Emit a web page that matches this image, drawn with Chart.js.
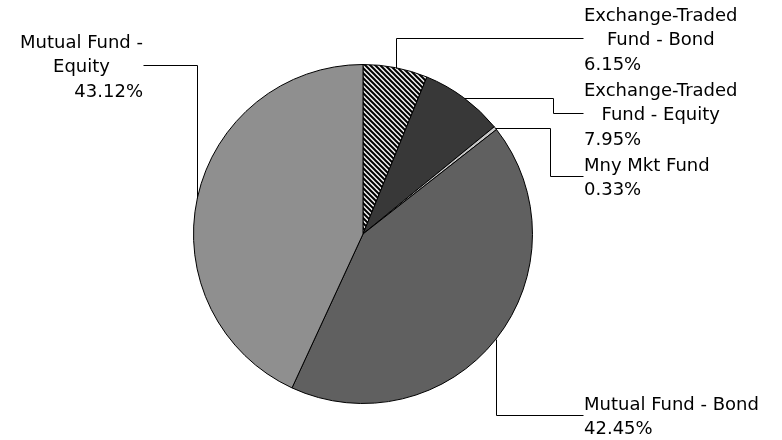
<!DOCTYPE html>
<html>
<head>
<meta charset="utf-8">
<script src="https://cdn.jsdelivr.net/npm/chart.js@4.4.1/dist/chart.umd.min.js"></script>
<style>
  html, body { margin: 0; padding: 0; background: #ffffff; }
  #wrap { width: 782px; height: 440px; position: relative; }
</style>
</head>
<body>
<div id="wrap"><canvas id="c" width="782" height="440"></canvas></div>
<script>
// ---- Data ----
const categories = [
  'Exchange-Traded Fund - Bond',
  'Exchange-Traded Fund - Equity',
  'Mny Mkt Fund',
  'Mutual Fund - Bond',
  'Mutual Fund - Equity'
];
const labelLines = [
  ['Exchange-Traded', 'Fund - Bond'],
  ['Exchange-Traded', 'Fund - Equity'],
  ['Mny Mkt Fund'],
  ['Mutual Fund - Bond'],
  ['Mutual Fund -', 'Equity']
];
const values = [6.15, 7.95, 0.33, 42.45, 43.12];

// ---- Styles / layout ----
const FONT = '18px "DejaVu Sans", Verdana, sans-serif';
const LINE_H = 24.5;
const labelLayout = [
  { side: 'right', edgeX: 583, y: 38,  route: 'v' },
  { side: 'right', edgeX: 583, y: 113, route: 'h', elbowX: 553 },
  { side: 'right', edgeX: 583, y: 176, route: 'h', elbowX: 550 },
  { side: 'right', edgeX: 583, y: 415, route: 'v' },
  { side: 'left',  edgeX: 143, y: 65,  route: 'v' }
];

function makeHatch() {
  const s = 5;
  const p = document.createElement('canvas');
  p.width = s; p.height = s;
  const g = p.getContext('2d');
  g.fillStyle = '#f0f0f0';
  g.fillRect(0, 0, s, s);
  g.strokeStyle = '#000000';
  g.lineWidth = 2;
  g.beginPath();
  g.moveTo(-1, -1); g.lineTo(s + 1, s + 1);
  g.moveTo(-1 - s, -1); g.lineTo(1, s + 1);
  g.moveTo(s - 1, -1); g.lineTo(2 * s + 1, s + 1);
  g.stroke();
  return g.createPattern(p, 'repeat');
}
const ctx0 = document.getElementById('c').getContext('2d');
const colors = [makeHatch(), '#383838', '#c8c8c8', '#606060', '#8f8f8f'];

const leaderPlugin = {
  id: 'leaders',
  afterDraw(chart) {
    const ctx = chart.ctx;
    const meta = chart.getDatasetMeta(0);
    const total = values.reduce((a, b) => a + b, 0);
    ctx.save();
    ctx.font = FONT;
    ctx.textBaseline = 'middle';
    ctx.fillStyle = '#000000';
    ctx.strokeStyle = '#000000';
    ctx.lineWidth = 1;
    meta.data.forEach((arc, i) => {
      const p = arc.getProps(['x', 'y', 'startAngle', 'endAngle', 'outerRadius'], true);
      const mid = (p.startAngle + p.endAngle) / 2;
      const ax = p.x + Math.cos(mid) * p.outerRadius;
      const ay = p.y + Math.sin(mid) * p.outerRadius;
      const L = labelLayout[i];
      const pts = [[ax, ay]];
      if (L.route === 'v') {
        pts.push([ax, L.y]);
      } else {
        pts.push([L.elbowX, ay]);
        pts.push([L.elbowX, L.y]);
      }
      pts.push([L.edgeX, L.y]);
      ctx.beginPath();
      pts.forEach((q, k) => {
        const x = Math.round(q[0]) + 0.5, y = Math.round(q[1]) + 0.5;
        if (k === 0) ctx.moveTo(x, y); else ctx.lineTo(x, y);
      });
      ctx.stroke();

      const pct = (values[i] / total * 100).toFixed(2) + '%';
      const lines = labelLines[i].slice();
      const widths = lines.map(t => ctx.measureText(t).width);
      const pw = ctx.measureText(pct).width;
      const bw = Math.max(pw, ...widths);
      const n = lines.length + 1;
      const top = L.y + 2.5 - (n * LINE_H) / 2 + LINE_H / 2;
      const left = L.side === 'right' ? L.edgeX + 1 : L.edgeX - bw;
      lines.forEach((t, k) => {
        ctx.textAlign = 'center';
        ctx.fillText(t, left + bw / 2, top + k * LINE_H);
      });
      if (L.side === 'right') {
        ctx.textAlign = 'left';
        ctx.fillText(pct, left, top + lines.length * LINE_H);
      } else {
        ctx.textAlign = 'right';
        ctx.fillText(pct, left + bw, top + lines.length * LINE_H);
      }
    });
    ctx.restore();
  }
};

new Chart(ctx0, {
  type: 'pie',
  data: {
    labels: categories,
    datasets: [{
      data: values,
      backgroundColor: colors,
      borderColor: '#000000',
      borderWidth: 1
    }]
  },
  options: {
    responsive: false,
    animation: false,
    events: [],
    layout: { padding: { left: 193, right: 249, top: 64, bottom: 36 } },
    plugins: { legend: { display: false }, tooltip: { enabled: false } }
  },
  plugins: [leaderPlugin]
});
</script>
</body>
</html>
